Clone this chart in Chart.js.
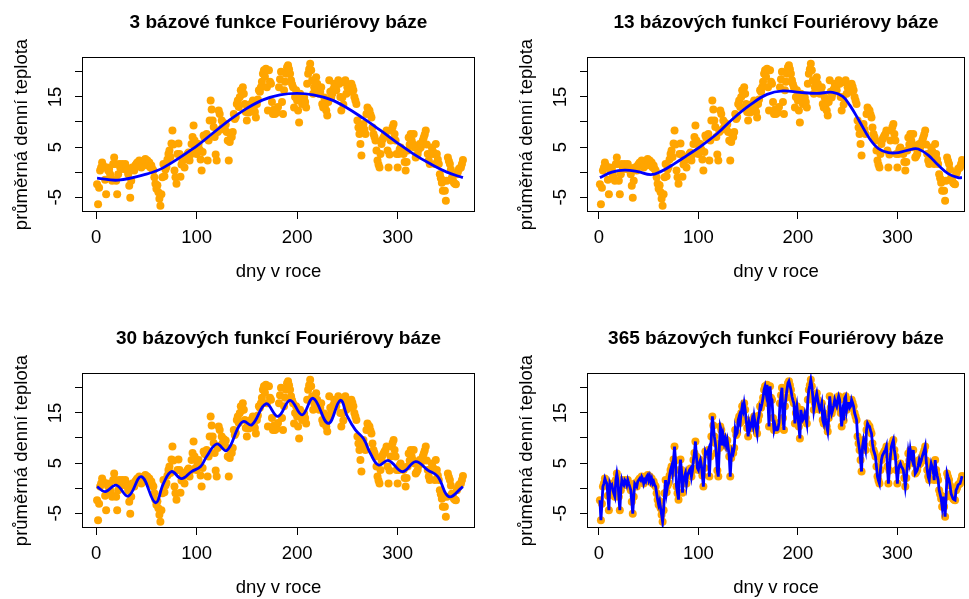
<!DOCTYPE html>
<html lang="cs">
<head>
<meta charset="utf-8">
<title>Fourierova báze – denní teploty</title>
<script src="https://cdn.jsdelivr.net/npm/chart.js"></script>
<style>
  html, body { margin: 0; padding: 0; background: #fff; }
  body { width: 969px; height: 599px; position: relative; overflow: hidden; }
  canvas { position: absolute; }
</style>
</head>
<body>
<canvas id="p1"></canvas>
<canvas id="p2"></canvas>
<canvas id="p3"></canvas>
<canvas id="p4"></canvas>
<script>
// dny v roce 1..365
const dny = Array.from({ length: 365 }, (_, i) => i + 1);

// průměrná denní teplota
const teplota = [
  -2.4, -6.4, -3.1, 0.3, 0.9, 1.9, 1.3, 0.9, -1.5, -4.4,
  0.9, 0.3, 0.6, -0.4, -1.1, -1.7, 1.6, 2.9, 1.6, -1.7,
  -4.4, -0.4, 1.6, 0.9, 0.6, 1.6, 1.3, 0.6, 1.6, 0.9,
  0.3, -0.4, -2.7, -5.1, -1.7, 0.9, 0.6, 0.3, 1.3, 1.6,
  1.9, 1.6, 2.3, 1.9, 0.9, 1.6, 1.3, 2.3, 2.6, 1.6,
  2.3, 1.3, 1.9, 0.9, 1.3, 0.6, 0.3, -1.0, -2.3, -3.3,
  -2.6, -4.0, -5.3, -6.7, -4.4, -1.0, 1.6, -0.8, 0.5, 1.0,
  2.5, 3.6, 4.3, 3.0, 5.7, 8.3, 5.5, 0.3, -1.0, -2.3,
  3.6, 5.7, 3.6, -0.9, 1.5, 2.3, 3.0, 0.9, 2.5, 3.0,
  3.6, 3.9, 2.3, 3.5, 5.6, 7.0, 9.3, 6.3, 4.0, 3.6,
  5.0, 5.6, 4.5, 2.5, 0.3, 4.0, 7.3, 6.8, 7.0, 7.6,
  2.3, 6.3, 10.3, 14.3, 12.5, 10.3, 9.0, 7.0, 3.5, 2.3,
  8.0, 12.3, 11.6, 8.5, 10.3, 9.0, 9.8, 8.5, 9.5, 8.0,
  6.3, 2.3, 6.0, 7.5, 7.0, 8.0, 11.6, 10.6, 11.0, 13.6,
  14.3, 13.0, 15.0, 16.3, 15.5, 16.9, 15.6, 13.6, 12.0, 10.3,
  12.9, 11.9, 12.5, 13.6, 12.5, 14.3, 13.0, 12.0, 10.9, 13.6,
  14.5, 16.3, 16.0, 16.9, 18.0, 19.6, 20.3, 19.0, 20.6, 16.9,
  12.3, 20.3, 18.0, 17.6, 14.0, 11.6, 12.5, 11.6, 12.0, 11.9,
  13.0, 16.9, 18.5, 20.0, 14.0, 11.6, 16.3, 18.0, 19.6, 20.9,
  21.3, 20.5, 19.6, 18.3, 17.5, 16.9, 12.9, 15.0, 16.3, 14.3,
  12.3, 9.9, 15.6, 14.3, 13.6, 14.0, 14.9, 14.0, 12.9, 17.6,
  19.6, 20.5, 21.6, 20.3, 18.3, 15.6, 16.9, 18.0, 18.9, 17.6,
  16.5, 15.6, 16.0, 16.9, 13.6, 12.9, 14.9, 13.5, 12.3, 11.3,
  14.0, 18.3, 16.0, 14.9, 15.6, 16.5, 17.6, 16.8, 16.3, 17.5,
  18.3, 17.6, 15.0, 12.3, 14.9, 13.5, 17.9, 18.3, 15.6, 16.9,
  16.9, 16.0, 16.3, 17.6, 17.0, 16.3, 15.0, 14.3, 13.6, 10.3,
  8.9, 7.6, 5.6, 3.3, 8.3, 9.6, 8.5, 7.6, 11.6, 12.9,
  12.5, 12.3, 11.5, 10.9, 8.9, 7.6, 7.0, 6.3, 4.3, 2.3,
  1.5, 0.9, 3.6, 5.6, 6.5, 6.9, 7.3, 7.6, 8.3, 4.3,
  0.9, 3.5, 6.3, 8.3, 9.0, 9.6, 7.6, 6.3, 3.6, 0.9,
  3.6, 4.5, 4.9, 4.3, 4.0, 3.6, 2.0, 0.3, 2.0, 4.3,
  6.9, 5.5, 7.6, 6.3, 5.6, 7.6, 4.9, 2.9, 3.2, 3.6,
  4.5, 5.6, 4.9, 5.5, 6.3, 6.9, 7.5, 8.3, 5.5, 3.6,
  2.3, 1.6, 3.6, 4.9, 4.2, 3.6, 1.6, 5.6, 3.6, 2.5,
  1.6, -0.4, -1.2, -2.1, -3.7, -1.7, -3.7, -5.7, -1.7, 2.9,
  2.2, 1.6, 0.5, -1.1, -1.6, -2.1, -2.3, -2.4, -0.4, 0.0,
  0.6, 0.8, 0.9, 1.6, 2.4
];

// vyhlazené křivky (3, 13 a 30 bázových funkcí)
const fit3Dny = [1, 22, 50, 67, 100, 117, 133, 150, 166, 183, 200, 216, 233, 249, 266, 283, 300, 316, 333, 349, 365];
const fit3 = [-1.2, -1.6, -0.4, 0.9, 5.2, 7.9, 10.4, 12.7, 14.4, 15.4, 15.7, 15.4, 14.5, 12.9, 10.7, 8.3, 5.8, 3.6, 1.6, 0.0, -1.1];

const fit13Dny = [1, 13, 26, 39, 52, 62, 76, 89, 102, 119, 135, 152, 169, 185, 202, 219, 235, 245, 252, 262, 272, 281, 291, 301, 315, 321, 331, 341, 351, 361, 365];
const fit13 = [-1.1, 0.0, 0.4, 0.1, -0.5, 0.1, 1.7, 3.4, 5.1, 7.7, 10.7, 13.4, 15.5, 16.2, 15.9, 15.7, 15.9, 15.1, 13.4, 10.1, 6.7, 4.7, 3.9, 3.9, 4.6, 4.6, 3.4, 1.4, -0.3, -1.1, -1.1];

const fit30Dny = [1, 9, 20, 32, 45, 59, 67, 75, 85, 95, 104, 110, 120, 130, 142, 147, 155, 169, 181, 193, 205, 216, 231, 243, 250, 258, 266, 273, 281, 291, 305, 318, 330, 340, 351, 365];
const fit30 = [0.3, -0.7, 0.6, -1.6, 2.3, -2.9, 0.9, 3.3, 1.9, 3.3, 4.3, 6.3, 8.8, 7.5, 12.3, 13.3, 12.6, 16.8, 14.3, 17.5, 14.6, 17.9, 12.9, 17.5, 14.3, 11.6, 9.9, 6.9, 4.6, 5.5, 3.3, 5.3, 3.6, 2.3, -1.7, 0.3];

const xTicks = [0, 100, 200, 300];
const yTicks = [-5, 0, 5, 10, 15, 20];
const yPopisky = ['-5', '', '5', '', '15', ''];

const FONT = '"Liberation Sans", Arial, Helvetica, sans-serif';
const ORANZOVA = '#FFA500';
const MODRA = '#0000FF';

const panely = [
  { id: 'p1', nadpis: '3 bázové funkce Fouriérovy báze', fx: fit3Dny, fy: fit3,
    left: 0, top: 0, w: 484, h: 300, xMin: -14, xMax: 377 },
  { id: 'p2', nadpis: '13 bázových funkcí Fouriérovy báze', fx: fit13Dny, fy: fit13,
    left: 505, top: 0, w: 464, h: 300, xMin: -12, xMax: 368 },
  { id: 'p3', nadpis: '30 bázových funkcí Fouriérovy báze', fx: fit30Dny, fy: fit30,
    left: 0, top: 316, w: 484, h: 283, xMin: -14, xMax: 377 },
  { id: 'p4', nadpis: '365 bázových funkcí Fouriérovy báze', fx: dny, fy: teplota, lomena: true,
    left: 505, top: 316, w: 464, h: 283, xMin: -12, xMax: 368 }
];

// rámeček kolem kreslicí plochy a nadpis panelu
const ramecek = {
  id: 'ramecek',
  afterDraw(chart, args, opts) {
    const { ctx, chartArea: a } = chart;
    ctx.save();
    ctx.strokeStyle = '#000';
    ctx.lineWidth = 1;
    const l = Math.round(a.left) + 0.5, t = Math.round(a.top) + 0.5;
    const r = Math.round(a.right) - 0.5, b = Math.round(a.bottom) - 0.5;
    ctx.strokeRect(l, t, r - l, b - t);
    ctx.fillStyle = '#000';
    ctx.font = 'bold 19px ' + FONT;
    ctx.textAlign = 'center';
    ctx.textBaseline = 'alphabetic';
    ctx.fillText(opts.text, (a.left + a.right) / 2, 28);
    ctx.restore();
  }
};

panely.forEach(p => {
  const cv = document.getElementById(p.id);
  cv.width = p.w;
  cv.height = p.h;
  cv.style.left = p.left + 'px';
  cv.style.top = p.top + 'px';

  const boxL = 82, boxT = 57, boxB = 212;
  const boxR = p.w - (p.id === 'p1' || p.id === 'p3' ? 9 : 1);
  const xVyska = 71;

  new Chart(cv, {
    type: 'scatter',
    data: {
      datasets: [
        {
          type: 'scatter',
          data: dny.map((d, i) => ({ x: d, y: teplota[i] })),
          backgroundColor: ORANZOVA,
          borderColor: ORANZOVA,
          borderWidth: 0,
          pointRadius: 4,
          order: 2
        },
        {
          type: 'line',
          data: p.fx.map((d, i) => ({ x: d, y: p.fy[i] })),
          borderColor: MODRA,
          borderWidth: 2.8,
          pointRadius: 0,
          fill: false,
          tension: p.lomena ? 0 : 0.4,
          order: 1
        }
      ]
    },
    options: {
      responsive: false,
      animation: false,
      devicePixelRatio: 1,
      events: [],
      layout: {
        padding: { left: 0, top: boxT, right: p.w - boxR, bottom: Math.max(p.h - boxB - xVyska, 0) }
      },
      plugins: {
        legend: { display: false },
        tooltip: { enabled: false },
        ramecek: { text: p.nadpis }
      },
      scales: {
        x: {
          type: 'linear',
          min: p.xMin,
          max: p.xMax,
          afterBuildTicks: s => { s.ticks = xTicks.map(v => ({ value: v })); },
          afterFit: s => { s.height = xVyska; },
          grid: { drawOnChartArea: false, drawTicks: true, tickLength: 7, color: '#000', lineWidth: 1 },
          border: { display: false },
          ticks: {
            autoSkip: false,
            maxRotation: 0,
            padding: 8,
            color: '#000',
            font: { family: FONT, size: 18.5 },
            callback: v => String(v)
          },
          title: {
            display: true,
            text: 'dny v roce',
            color: '#000',
            font: { family: FONT, size: 18.5 },
            padding: { top: 0, bottom: 0 }
          }
        },
        y: {
          type: 'linear',
          min: -7.95,
          max: 22.95,
          afterBuildTicks: s => { s.ticks = yTicks.map(v => ({ value: v })); },
          afterFit: s => { s.width = boxL; },
          grid: { drawOnChartArea: false, drawTicks: true, tickLength: 7, color: '#000', lineWidth: 1 },
          border: { display: false },
          ticks: {
            autoSkip: false,
            minRotation: 90,
            maxRotation: 90,
            crossAlign: 'center',
            padding: 9,
            color: '#000',
            font: { family: FONT, size: 18.5 },
            callback: (v, i) => yPopisky[i]
          },
          title: {
            display: true,
            text: 'průměrná denní teplota',
            color: '#000',
            font: { family: FONT, size: 18.5 },
            padding: { top: 10.6, bottom: 0 }
          }
        }
      }
    },
    plugins: [ramecek]
  });
});
</script>
</body>
</html>
